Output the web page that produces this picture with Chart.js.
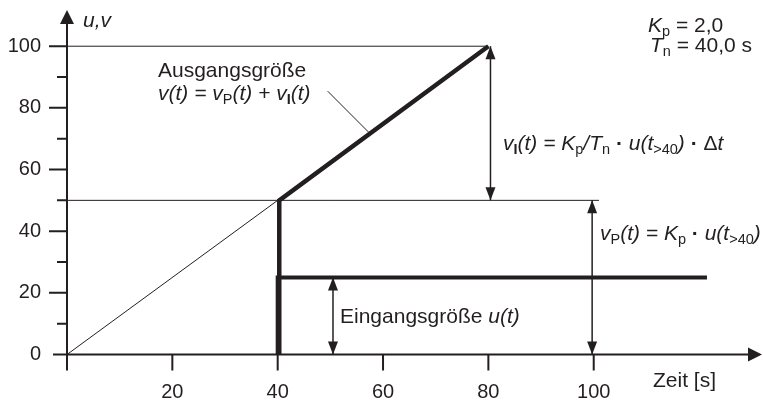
<!DOCTYPE html>
<html>
<head>
<meta charset="utf-8">
<script src="https://cdn.jsdelivr.net/npm/chart.js@4.4.1/dist/chart.umd.min.js"></script>
<style>
  html, body { margin: 0; padding: 0; background: #fff; }
  #wrap { width: 763px; height: 403px; }
</style>
</head>
<body>
<div id="wrap"><canvas id="chart"></canvas></div>
<script>
// axis ticks
const xTicks = [20, 40, 60, 80, 100];
const yMajor = [0, 20, 40, 60, 80, 100];
const yMinor = [10, 30, 50, 70, 90];

// thin guide from the origin up to the jump point
const rampX = [0, 40];
const rampY = [0, 50];
// output v(t): P-jump then I-ramp
const vX = [40.3, 40.3, 80];
const vY = [0, 50, 100];
// input u(t): step
const uX = [40, 40, 121.5];
const uY = [0, 25, 25];
// thin horizontal reference lines
const ref100X = [0, 80];
const ref50X = [0, 101];
// dimension arrows (x, from, to)
const arrowX = [80.4, 99.7, 50.5];
const arrowFrom = [50, 0, 0];
const arrowTo = [100, 50, 25];
// leader line to the output curve
const leaderX = [49.5, 57.5];
const leaderY = [85.4, 71.7];

const INK = '#231f20';
const FONT = '"Liberation Sans", Arial, sans-serif';

function pts(xs, ys) {
    return xs.map((x, i) => ({ x: x, y: ys[i] }));
}

function line(data, width) {
    return {
        data: data,
        showLine: true,
        borderColor: INK,
        borderWidth: width,
        pointRadius: 0,
        borderJoinStyle: 'miter',
        borderCapStyle: 'butt',
        clip: false
    };
}

const datasets = [
    line(pts(rampX, rampY), 1),
    line(pts(ref100X, [100, 100]), 1),
    line(pts(ref50X, [50, 50]), 1),
    line(pts(leaderX, leaderY), 1),
    line(pts(uX, uY), 4),
    line(pts(vX, vY), 4.5)
];
arrowX.forEach((x, i) => {
    datasets.push(line(pts([x, x], [arrowFrom[i], arrowTo[i]]), 1.5));
});

// draw text made of normal / italic / subscript pieces
function rich(ctx, x, y, parts) {
    parts.forEach(([txt, st]) => {
        const sub = st.includes('s');
        const it = st.includes('i');
        const bold = st.includes('b');
        ctx.font = (it ? 'italic ' : '') + (bold ? 'bold ' : '') + (sub ? 14.5 : 21) + 'px ' + FONT;
        ctx.fillText(txt, x, y + (sub ? 4 : 0));
        x += ctx.measureText(txt).width;
    });
}

function head(ctx, x, y, dx, dy) {
    // tip at (x,y), pointing in direction (dx,dy)
    const len = 13, hw = 5;
    ctx.beginPath();
    ctx.moveTo(x, y);
    ctx.lineTo(x - dx * len - dy * hw, y - dy * len - dx * hw);
    ctx.lineTo(x - dx * len + dy * hw, y - dy * len + dx * hw);
    ctx.closePath();
    ctx.fill();
}

const decor = {
    id: 'decor',
    afterDatasetsDraw(chart) {
        const ctx = chart.ctx;
        const xs = chart.scales.x, ys = chart.scales.y;
        const x0 = xs.getPixelForValue(0), y0 = ys.getPixelForValue(0);
        ctx.save();
        ctx.strokeStyle = INK;
        ctx.fillStyle = INK;
        ctx.lineCap = 'butt';

        // axes with arrow tips
        ctx.lineWidth = 2;
        ctx.beginPath();
        ctx.moveTo(x0, y0 + 16);
        ctx.lineTo(x0, 20);
        ctx.moveTo(x0 - 14, y0);
        ctx.lineTo(752, y0);
        ctx.stroke();
        ctx.beginPath();
        ctx.moveTo(762, y0);
        ctx.lineTo(748, y0 - 7);
        ctx.lineTo(748, y0 + 7);
        ctx.closePath();
        ctx.fill();
        ctx.beginPath();
        ctx.moveTo(x0, 10);
        ctx.lineTo(x0 - 7, 24);
        ctx.lineTo(x0 + 7, 24);
        ctx.closePath();
        ctx.fill();

        // tick marks
        ctx.beginPath();
        xTicks.forEach(v => {
            const px = xs.getPixelForValue(v);
            ctx.moveTo(px, y0);
            ctx.lineTo(px, y0 + 16);
        });
        yMajor.slice(1).forEach(v => {
            const py = ys.getPixelForValue(v);
            ctx.moveTo(x0 - 18, py);
            ctx.lineTo(x0, py);
        });
        yMinor.forEach(v => {
            const py = ys.getPixelForValue(v);
            ctx.moveTo(x0 - 10, py);
            ctx.lineTo(x0, py);
        });
        ctx.stroke();

        // dimension arrow heads
        arrowX.forEach((v, i) => {
            const px = xs.getPixelForValue(v);
            head(ctx, px, ys.getPixelForValue(arrowTo[i]), 0, -1);
            head(ctx, px, ys.getPixelForValue(arrowFrom[i]), 0, 1);
        });

        // labels
        ctx.textAlign = 'left';
        ctx.textBaseline = 'alphabetic';
        rich(ctx, 83, 27, [['u,v', 'i']]);
        rich(ctx, 648, 32, [['K', 'i'], ['p', 's'], [' = 2,0', 'n']]);
        rich(ctx, 650, 52, [['T', 'i'], ['n', 's'], [' = 40,0 s', 'n']]);
        rich(ctx, 158, 77, [['Ausgangsgröße', 'n']]);
        rich(ctx, 158, 100, [['v(t) = v', 'i'], ['P', 's'], ['(t) + v', 'i'], ['I', 'sb'], ['(t)', 'i']]);
        rich(ctx, 503, 150, [['v', 'i'], ['I', 'sb'], ['(t) = K', 'i'], ['p', 's'], ['/', 'i'], ['T', 'i'], ['n', 's'],
            [' ', 'i'], ['·', 'b'], [' u(t', 'i'], ['>40', 's'], [') ', 'i'], ['·', 'b'], [' ', 'i'], ['Δ', 'n'], ['t', 'i']]);
        rich(ctx, 600, 240, [['v', 'i'], ['P', 's'], ['(t) = K', 'i'], ['p', 's'], [' ', 'i'], ['·', 'b'], [' u(t', 'i'], ['>40', 's'], [')', 'i']]);
        rich(ctx, 340, 323, [['Eingangsgröße ', 'n'], ['u(t)', 'i']]);
        rich(ctx, 653, 387, [['Zeit [s]', 'n']]);
        ctx.restore();
    }
};

new Chart(document.getElementById('chart'), {
    type: 'scatter',
    data: { datasets: datasets },
    options: {
        responsive: true,
        maintainAspectRatio: false,
        animation: false,
        layout: { padding: { top: 12, right: 6, left: 0, bottom: 0 } },
        plugins: {
            legend: { display: false },
            tooltip: { enabled: false }
        },
        scales: {
            x: {
                type: 'linear',
                min: 0,
                max: 131,
                afterBuildTicks: s => { s.ticks = xTicks.map(v => ({ value: v })); },
                afterFit: s => { s.height = 48.5; },
                grid: { display: true, drawOnChartArea: false, drawTicks: true, tickLength: 15, color: 'rgba(0,0,0,0)' },
                border: { display: false },
                ticks: {
                    autoSkip: false,
                    maxRotation: 0,
                    padding: 11,
                    color: INK,
                    font: { family: FONT, size: 20 }
                }
            },
            y: {
                type: 'linear',
                min: 0,
                max: 108.5,
                afterBuildTicks: s => { s.ticks = yMajor.map(v => ({ value: v })); },
                afterFit: s => { s.width = 67; },
                grid: { display: true, drawOnChartArea: false, drawTicks: true, tickLength: 18, color: 'rgba(0,0,0,0)' },
                border: { display: false },
                ticks: {
                    padding: 8,
                    color: INK,
                    font: { family: FONT, size: 20 }
                }
            }
        }
    },
    plugins: [decor]
});
</script>
</body>
</html>
